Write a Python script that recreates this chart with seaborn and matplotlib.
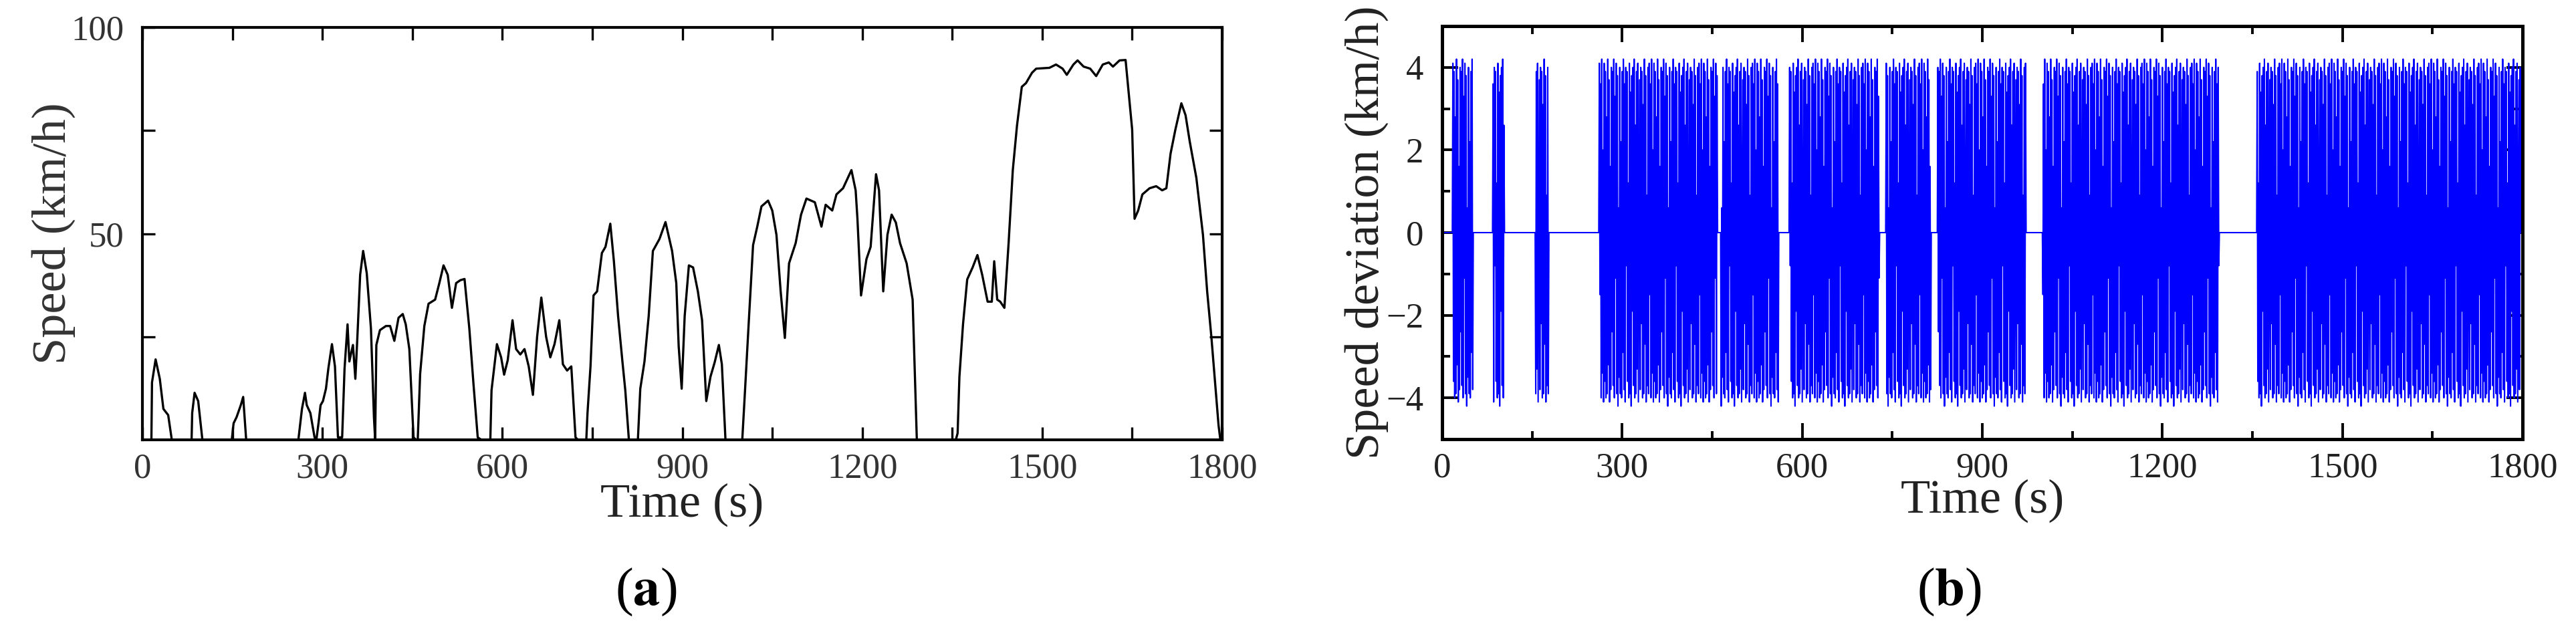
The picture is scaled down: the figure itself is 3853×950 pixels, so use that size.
import numpy as np
import pandas as pd
import matplotlib
matplotlib.use("Agg")
import matplotlib.pyplot as plt
import seaborn as sns
from matplotlib.ticker import MultipleLocator, FixedLocator

# ---------------- data ----------------
TIME_A = [0, 15, 16, 22, 29, 35, 43, 49, 82, 83, 87, 93, 100, 149, 152, 157, 164, 168, 173,
          260, 266, 271, 274, 280, 287, 290, 294, 297, 301, 306, 310, 316, 321, 326, 333, 337,
          342, 345, 351, 355, 358, 363, 368, 374, 381, 386, 388, 390, 396, 406, 413, 420, 427,
          434, 439, 445, 452, 456, 459, 463, 470, 477, 488, 495, 502, 509, 516, 523, 530, 537,
          545, 552, 559, 565, 580, 582, 587, 591, 598, 603, 609, 617, 623, 630, 637, 644, 651,
          658, 665, 673, 680, 687, 695, 701, 708, 715, 722, 726, 740, 742, 747, 752, 758, 766,
          772, 780, 786, 793, 800, 805, 811, 826, 830, 837, 844, 851, 862, 872, 883, 890, 894,
          899, 904, 911, 918, 926, 933, 940, 947, 954, 961, 966, 972, 1000, 1004, 1011, 1018,
          1025, 1032, 1043, 1050, 1057, 1064, 1071, 1078, 1089, 1098, 1107, 1121, 1132, 1139,
          1150, 1157, 1168, 1182, 1189, 1192, 1198, 1207, 1214, 1223, 1228, 1235, 1242, 1249,
          1256, 1263, 1274, 1284, 1291, 1356, 1359, 1362, 1368, 1375, 1384, 1392, 1400, 1409,
          1416, 1420, 1425, 1430, 1437, 1444, 1451, 1458, 1466, 1473, 1483, 1490, 1512, 1523,
          1534, 1541, 1552, 1559, 1569, 1580, 1590, 1601, 1611, 1618, 1629, 1639, 1643, 1650,
          1654, 1660, 1667, 1679, 1690, 1700, 1707, 1714, 1722, 1732, 1739, 1746, 1757, 1768,
          1775, 1782, 1789, 1794, 1797, 1800]
SPEED_A = [0, 0, 13.9, 19.5, 14.8, 7.5, 6, 0, 0, 6.5, 11.4, 9.4, 0, 0, 4, 5.5, 8.4, 10.4, 0,
           0, 7.5, 11.4, 8.4, 6.5, 0.6, 0, 4.5, 8.4, 9.4, 12.4, 17.3, 23.2, 17.8, 0.6, 0.6, 17.3,
           28, 19, 23, 14.8, 23.7, 40, 45.8, 40.4, 27, 5.5, 0, 23, 26.6, 27.6, 27.6, 24, 29.6,
           30.5, 28, 22, 0.6, 0, 0, 16, 27.6, 33, 34, 38, 42.3, 40, 32, 38, 38.7, 39,
           27, 13.4, 0.6, 0, 0, 12, 18.3, 23.2, 20, 15.8, 19.3, 29, 22, 20.7, 22, 17.8, 10.9,
           25, 34.5, 25, 20, 23.2, 29, 18.3, 16.8, 17.8, 0.6, 0, 0, 6.5, 17.8, 35, 36, 45.3,
           46.8, 52.4, 43.3, 30, 19.3, 12, 0, 0, 12.4, 19, 30, 45.8, 48.7, 52.8, 45.8, 38, 22.7,
           12.4, 30, 42.3, 41.8, 36, 29, 9.4, 15.3, 18.8, 23, 18.3, 0, 0, 10.4, 29, 47.2,
           51.7, 56.6, 58, 55.6, 49.7, 36, 24.7, 42.8, 47.7, 54.6, 58.5, 57.6, 51.7, 57,
           55.6, 59.5, 61, 65.4, 60.5, 53.6, 35, 43.8, 46.8, 64.4, 60.5, 36, 49.7, 54.6,
           52.7, 47.7, 42.8, 34, 0, 0, 1.6, 15.3, 28, 38.9, 41.8, 44.8, 40, 33.5,
           33.5, 43.3, 34, 33.5, 32, 47.7, 65.4, 76.2, 85.6, 86.5, 89, 90, 90.2, 91,
           90, 88.5, 91, 92, 90.5, 90, 88.2, 91, 91.5, 90.5, 92, 92.1, 86, 75.2,
           53.6, 55.6, 59.5, 61, 61.5, 60.5, 61, 69.4, 75.2, 81.6, 78.7, 72.3, 63.5, 49.7,
           36, 25, 12.4, 3.5, 0, 0]

# Panel (b): intervals (s) in which the deviation signal is active, and the
# deviation values (km/h), applied second by second.
MOVING_START = [18, 85, 156, 262, 465, 579, 740, 826, 1001, 1358]
MOVING_END = [51, 103, 177, 458, 560, 728, 814, 972, 1294, 1796]
DEV_VALUES = [4.1, -3.6, 3.9, -4.0, 2.8, -3.9, 4.2, -3.2, 3.7, -4.1, 1.6, -3.8, 4.0, -2.4,
              3.9, -3.7, 4.2, -4.0, 3.3, -1.1, 4.1, -3.9, 3.8, -4.2, 0.6, -3.5, 4.0, -3.9,
              2.2, -4.0, 3.9, -2.9, 4.2, -3.8, 3.6, -4.1, 4.0, -0.8, 3.9, -3.6, 1.2, -4.0,
              4.1, -3.9, 3.4, -4.2, 3.8, -1.9, 4.0, -3.7, 4.2, -4.0, 2.6, -3.9, 3.9, -3.3,
              4.1, -4.1, -0.4, 3.7, -3.8, 4.0, -2.2, 3.9, -4.0, 3.1, -3.9, 4.2, -2.7, 3.8,
              -4.1, 0.9, -3.7, 4.0, -3.9, 4.1, -1.5, 3.6, -4.0, 4.2, -3.4, 2.0, -4.1]

X_TICKS = [0, 300, 600, 900, 1200, 1500, 1800]
YA_TICKS = [50, 100]
YB_TICKS = [-4, -2, 0, 2, 4]

# ---------------- build tables ----------------
df_a = pd.DataFrame({"t": TIME_A, "v": SPEED_A})
t_b = np.arange(0, 1801)
dev_b = np.zeros(len(t_b))
k = 0
for s, e in zip(MOVING_START, MOVING_END):
    for ti in range(s, e + 1):
        dev_b[ti] = DEV_VALUES[k % len(DEV_VALUES)]
        k += 1
df_b = pd.DataFrame({"t": t_b, "d": dev_b})

# ---------------- style ----------------
sns.set_theme(style="white")
plt.rcParams["font.family"] = ["Liberation Serif", "DejaVu Serif"]
plt.rcParams["mathtext.fontset"] = "stix"
plt.rcParams["axes.unicode_minus"] = True

fig = plt.figure(figsize=(38.53, 9.5), dpi=100)
ax1 = fig.add_axes([0.05528, 0.30737, 0.41916, 0.64947])
ax2 = fig.add_axes([0.55982, 0.30842, 0.41942, 0.65053])

sns.lineplot(data=df_a, x="t", y="v", ax=ax1, color="black", lw=2.4,
             estimator=None, sort=False, legend=False)
sns.lineplot(data=df_b, x="t", y="d", ax=ax2, color="#0000FF", lw=1.5,
             estimator=None, sort=False, legend=False)

TICK_FS = 38
LABEL_FS = 52

# Panel (a)
ax1.set_xlim(0, 1800)
ax1.set_ylim(0, 100)
ax1.xaxis.set_major_locator(FixedLocator(X_TICKS))
ax1.xaxis.set_minor_locator(MultipleLocator(150))
ax1.yaxis.set_major_locator(FixedLocator(YA_TICKS))
ax1.yaxis.set_minor_locator(FixedLocator([25, 75]))
ax1.tick_params(which="both", direction="in", top=True, right=True, bottom=True, left=True,
                length=14, width=2.4, color="black")
ax1.tick_params(axis="both", which="major", labelsize=TICK_FS, labelcolor="#333333")
ax1.tick_params(axis="x", which="major", pad=14)
ax1.tick_params(axis="y", which="major", pad=20)
for sp in ax1.spines.values():
    sp.set_linewidth(3.0)
    sp.set_color("black")
ax1.set_xlabel("Time (s)", fontsize=LABEL_FS, color="#222222")
ax1.set_ylabel("Speed (km/h)", fontsize=LABEL_FS, color="#333333")
ax1.xaxis.set_label_coords(0.5, -0.105)
ax1.yaxis.set_label_coords(-0.062, 0.5)

# Panel (b)
ax2.set_xlim(0, 1800)
ax2.set_ylim(-5, 5)
ax2.xaxis.set_major_locator(FixedLocator(X_TICKS))
ax2.xaxis.set_minor_locator(MultipleLocator(150))
ax2.yaxis.set_major_locator(FixedLocator(YB_TICKS))
ax2.yaxis.set_minor_locator(MultipleLocator(1))
ax2.tick_params(which="both", direction="in", top=True, right=True, bottom=True, left=True,
                width=2.8, color="black")
ax2.tick_params(which="major", length=17)
ax2.tick_params(which="minor", length=8.5)
ax2.tick_params(axis="both", which="major", labelsize=TICK_FS, labelcolor="#222222")
ax2.tick_params(axis="x", which="major", pad=14)
ax2.tick_params(axis="y", which="major", pad=20)
for sp in ax2.spines.values():
    sp.set_linewidth(3.6)
    sp.set_color("black")
ax2.set_xlabel("Time (s)", fontsize=LABEL_FS, color="#222222")
ax2.set_ylabel("Speed deviation (km/h)", fontsize=LABEL_FS, color="#222222")
ax2.xaxis.set_label_coords(0.5, -0.097)
ax2.yaxis.set_label_coords(-0.0495, 0.5)

# Panel captions
fig.text(966 / 3853, 1 - 886 / 950, r"($\mathbf{a}$)", ha="center", va="center",
         fontsize=58, color="black")
fig.text(2915 / 3853, 1 - 886 / 950, r"($\mathbf{b}$)", ha="center", va="center",
         fontsize=58, color="black")

fig.savefig("out.png", dpi=100, facecolor="white")
